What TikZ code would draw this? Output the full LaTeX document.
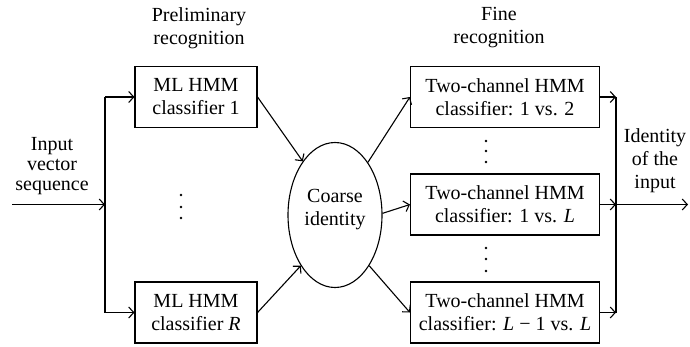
\documentclass[tikz,border=0pt]{standalone}
\usepackage{fontspec}
\setmainfont{Liberation Serif}
\usetikzlibrary{arrows.meta,shapes.geometric}
\begin{document}
\begin{tikzpicture}[x=1pt,y=-1pt,
  every node/.style={font=\fontsize{20}{23}\selectfont},
  box/.style={draw, line width=1.1pt, minimum height=61pt, inner sep=0pt, align=center},
  mlbox/.style={box, minimum width=122pt},
  finebox/.style={box, minimum width=189pt},
  lbl/.style={align=center, inner sep=0pt},
  conn/.style={line width=1.1pt},
  arr/.style={conn, -{Straight Barb[length=5pt,width=11pt]}},
  dotmark/.style={circle, fill, inner sep=0pt, minimum size=2.6pt}
]
\useasboundingbox (0,0) rectangle (690,346);

% titles
\node[lbl] (prelim) at (199,28) {Preliminary\\recognition};
\node[lbl] (finet) at (499,28) {Fine\\recognition};

% boxes
\node[mlbox] (ml1) at (196,97) {ML HMM\\classifier 1};
\node[mlbox] (mlR) at (196,312.5) {ML HMM\\classifier \textit{R}};
\node[draw, ellipse, line width=1.1pt, minimum width=94pt, minimum height=145pt, inner sep=0pt] (ell) at (335,215) {};
\node[lbl] (coarse) at (335,210) {Coarse\\identity};
\node[finebox] (f1) at (505,97) {Two-channel HMM\\classifier: 1 vs. 2};
\node[finebox] (f2) at (505,204.5) {Two-channel HMM\\classifier: 1 vs. \textit{L}};
\node[finebox] (f3) at (505,312.5) {Two-channel HMM\\classifier: \textit{L} − 1 vs. \textit{L}};

% side labels
\node[lbl, font=\fontsize{20}{20}\selectfont] (inlbl) at (52,166) {Input\\vector\\sequence};
\node[lbl] (outlbl) at (655,161) {Identity\\of the\\input};

% dots
\foreach \y [count=\i] in {195,207,218} \node[dotmark] (da\i) at (181,\y) {};
\foreach \y [count=\i] in {141,151,162} \node[dotmark] (db\i) at (486,\y) {};
\foreach \y [count=\i] in {248,259,271} \node[dotmark] (dc\i) at (486,\y) {};

% junction coordinates
\coordinate (in) at (12,204.5);
\coordinate (ja) at (105,204.5);
\coordinate (jt) at (105,97);
\coordinate (jb) at (105,312.5);
\coordinate (kt) at (616,97);
\coordinate (ka) at (616,204.5);
\coordinate (kb) at (616,312.5);
\coordinate (out) at (688,204.5);

% input fan-out
\draw[arr] (in) -- (ja);
\draw[conn] (jt) -- (jb);
\draw[arr] (jt) -- (ml1.west);
\draw[arr] (jb) -- (mlR.west);

% to/from coarse identity
\draw[arr] (ml1.east) -- (ell.121);
\draw[arr] (mlR.east) -- (ell.236);
\draw[arr] (ell.58) -- (f1.west);
\draw[arr] (ell.2) -- (f2.west);
\draw[arr] (ell.-56) -- (f3.west);

% output fan-in
\draw[arr] (f1.east) -- (kt);
\draw[arr] (f2.east) -- (ka);
\draw[arr] (f3.east) -- (kb);
\draw[conn] (kt) -- (kb);
\draw[arr] (ka) -- (out);
\end{tikzpicture}
\end{document}
